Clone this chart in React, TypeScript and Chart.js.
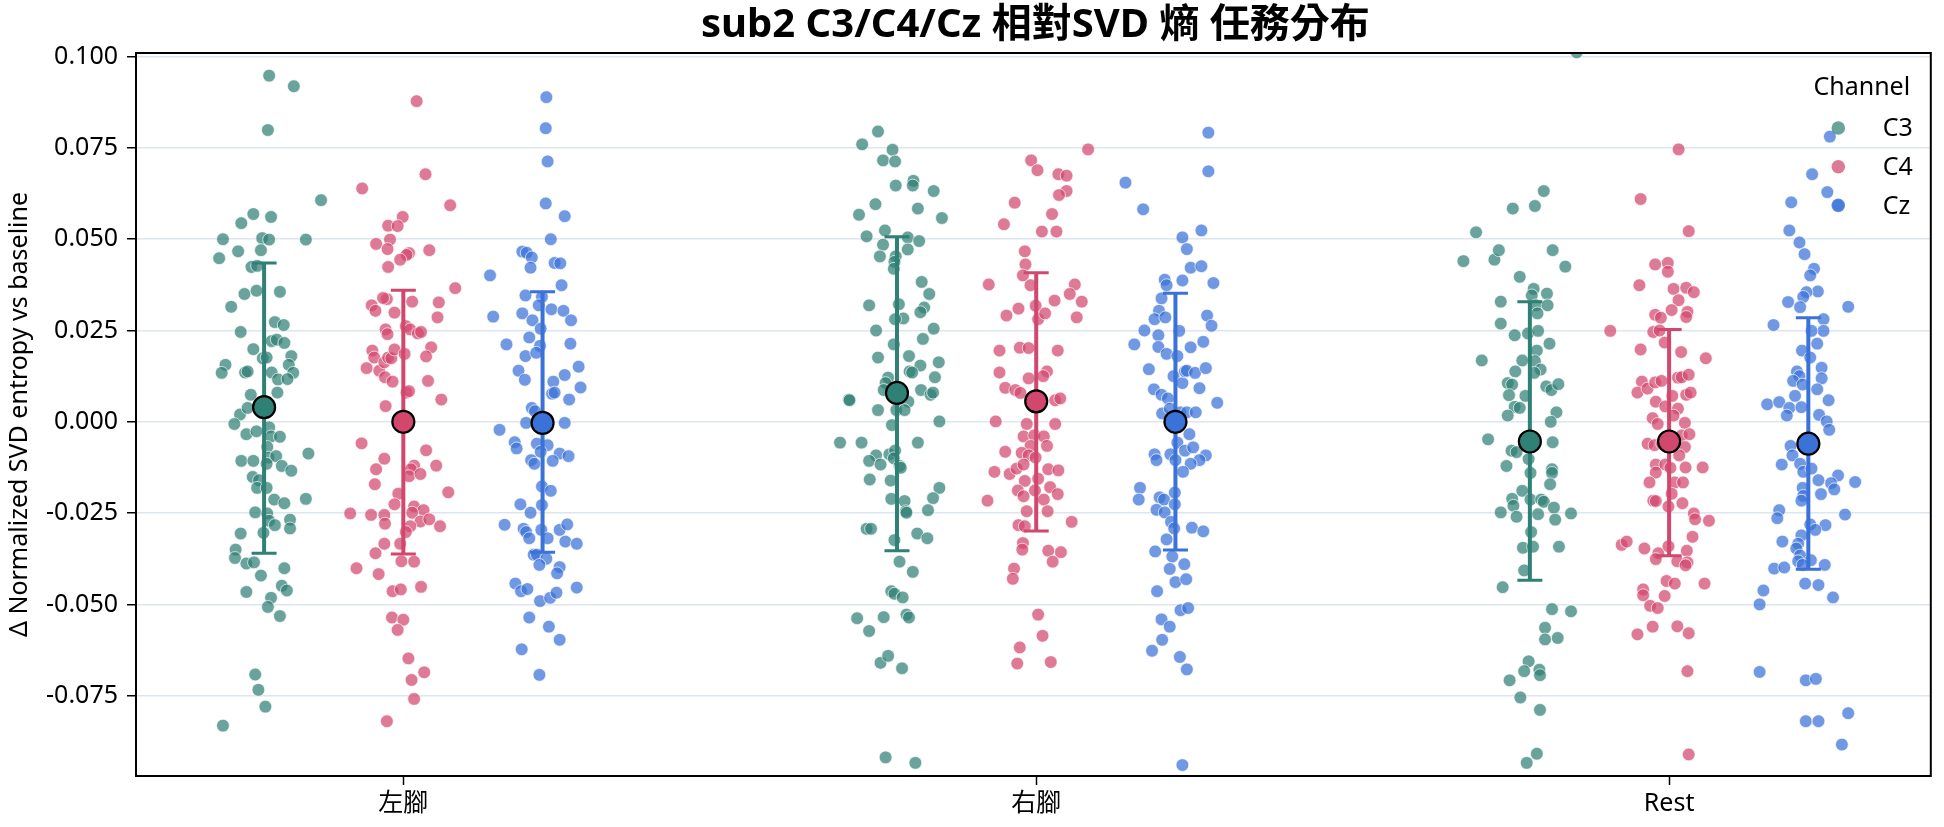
import React, { useEffect, useRef } from 'react';
import { Chart, registerables } from 'chart.js';

Chart.register(...registerables);

const WIDTH = 1944;
const HEIGHT = 827;
const FONT = '"Noto Sans", "Noto Sans CJK TC", sans-serif';

const titleText = 'sub2 C3/C4/Cz 相對SVD 熵 任務分布';
const yAxisTitle = 'Δ Normalized SVD entropy vs baseline';
const legendTitle = 'Channel';

const categories = ['左腳', '右腳', 'Rest'];
const channels = ['C3', 'C4', 'Cz'];
const yTicks = [-0.075, -0.05, -0.025, 0, 0.025, 0.05, 0.075, 0.1];

// per-channel dodge within a task, in category units
const dodge = [-0.22, 0, 0.22];

// channel means per task, with the lower / upper error-bar ends
const c3Mean = [0.004, 0.0079, -0.0054];
const c4Mean = [0.0, 0.0056, -0.0054];
const czMean = [-0.0003, 0.0, -0.006];
const c3Low = [-0.036, -0.0353, -0.0434];
const c3High = [0.0435, 0.0507, 0.0329];
const c4Low = [-0.0362, -0.0299, -0.0367];
const c4High = [0.036, 0.0408, 0.0253];
const czLow = [-0.0357, -0.0351, -0.0404];
const czHigh = [0.0356, 0.0352, 0.0285];

// trials: [jitter, Δ entropy]
const c3Left = [[0.008,0.0948],[0.047,0.0919],[0.006,0.0799],[0.090,0.0607],[-0.017,0.0569],[-0.036,0.0544],[0.011,0.0561],[-0.065,0.0500],[-0.003,0.0503],[0.008,0.0499],[0.066,0.0499],[-0.071,0.0448],[-0.041,0.0467],[-0.005,0.0470],[-0.020,0.0424],[-0.011,0.0427],[0.025,0.0356],[-0.031,0.0350],[-0.012,0.0359],[-0.052,0.0315],[-0.037,0.0246],[0.017,0.0273],[0.031,0.0265],[-0.017,0.0199],[0.012,0.0221],[0.020,0.0225],[0.032,0.0216],[-0.061,0.0156],[-0.067,0.0134],[-0.030,0.0135],[-0.026,0.0138],[-0.002,0.0174],[0.004,0.0176],[0.043,0.0180],[0.039,0.0156],[0.046,0.0134],[0.012,0.0135],[0.022,0.0116],[0.037,0.0117],[-0.021,0.0074],[0.021,0.0080],[-0.038,0.0020],[-0.026,0.0038],[-0.047,-0.0006],[-0.028,-0.0034],[0.008,-0.0015],[0.011,-0.0040],[0.025,-0.0041],[-0.012,-0.0026],[0.070,-0.0087],[-0.036,-0.0107],[-0.017,-0.0107],[0.005,-0.0069],[0.007,-0.0098],[0.019,-0.0094],[0.028,-0.0121],[0.043,-0.0134],[0.004,-0.0115],[-0.018,-0.0151],[-0.008,-0.0160],[-0.011,-0.0181],[0.004,-0.0181],[0.016,-0.0213],[0.032,-0.0223],[0.066,-0.0211],[-0.014,-0.0248],[0.005,-0.0251],[0.008,-0.0271],[0.017,-0.0283],[0.041,-0.0268],[0.041,-0.0292],[-0.037,-0.0306],[-0.001,-0.0304],[-0.045,-0.0350],[-0.046,-0.0373],[-0.028,-0.0388],[-0.016,-0.0385],[-0.005,-0.0421],[0.032,-0.0401],[0.028,-0.0449],[0.036,-0.0462],[-0.028,-0.0466],[0.011,-0.0482],[0.006,-0.0507],[0.025,-0.0532],[-0.014,-0.0692],[-0.009,-0.0734],[0.002,-0.0780],[-0.065,-0.0832]];
const c4Left = [[0.021,0.0878],[0.035,0.0678],[-0.065,0.0639],[0.074,0.0593],[-0.001,0.0561],[-0.024,0.0537],[-0.009,0.0536],[-0.021,0.0499],[-0.043,0.0487],[-0.025,0.0473],[0.009,0.0462],[0.005,0.0457],[-0.005,0.0444],[0.041,0.0470],[-0.024,0.0424],[0.082,0.0366],[-0.026,0.0336],[-0.050,0.0319],[-0.044,0.0304],[-0.032,0.0339],[-0.014,0.0299],[0.014,0.0329],[0.056,0.0327],[0.054,0.0286],[-0.028,0.0253],[-0.025,0.0240],[0.004,0.0262],[0.011,0.0253],[0.023,0.0242],[0.028,0.0246],[-0.049,0.0195],[-0.046,0.0176],[-0.058,0.0147],[-0.038,0.0140],[-0.030,0.0163],[-0.024,0.0176],[-0.019,0.0174],[-0.014,0.0198],[0.002,0.0186],[0.044,0.0204],[0.036,0.0179],[-0.029,0.0122],[-0.017,0.0110],[0.039,0.0112],[0.005,0.0080],[0.009,0.0084],[-0.028,0.0043],[0.060,0.0061],[-0.066,-0.0059],[-0.030,-0.0101],[-0.043,-0.0130],[-0.045,-0.0171],[0.017,-0.0120],[0.012,-0.0130],[0.009,-0.0149],[0.027,-0.0143],[0.036,-0.0078],[0.052,-0.0120],[0.071,-0.0193],[-0.008,-0.0197],[-0.014,-0.0226],[0.017,-0.0232],[0.032,-0.0242],[0.014,-0.0249],[-0.084,-0.0251],[-0.051,-0.0255],[-0.030,-0.0255],[-0.029,-0.0279],[0.027,-0.0273],[0.041,-0.0267],[0.058,-0.0286],[0.011,-0.0286],[0.004,-0.0302],[-0.030,-0.0334],[-0.005,-0.0334],[-0.044,-0.0360],[-0.074,-0.0401],[-0.039,-0.0417],[-0.003,-0.0382],[0.017,-0.0383],[-0.017,-0.0464],[-0.004,-0.0459],[0.028,-0.0452],[-0.018,-0.0536],[0.000,-0.0542],[-0.009,-0.0570],[0.008,-0.0648],[0.033,-0.0686],[0.013,-0.0707],[0.017,-0.0759],[-0.026,-0.0820]];
const czLeft = [[0.006,0.0889],[0.005,0.0804],[0.008,0.0713],[0.005,0.0598],[0.035,0.0563],[0.013,0.0500],[-0.032,0.0466],[-0.025,0.0463],[-0.017,0.0450],[-0.019,0.0422],[0.019,0.0435],[0.028,0.0434],[-0.083,0.0401],[0.030,0.0374],[-0.027,0.0346],[-0.001,0.0342],[-0.006,0.0319],[0.014,0.0308],[0.033,0.0304],[0.045,0.0278],[-0.078,0.0288],[-0.032,0.0297],[-0.016,0.0278],[-0.003,0.0255],[-0.057,0.0212],[-0.021,0.0231],[-0.004,0.0208],[0.044,0.0214],[-0.027,0.0180],[-0.010,0.0189],[-0.038,0.0140],[-0.028,0.0115],[0.057,0.0151],[0.035,0.0128],[0.017,0.0110],[0.015,0.0077],[0.019,0.0080],[0.060,0.0094],[0.042,0.0061],[-0.017,0.0038],[-0.012,0.0029],[-0.026,-0.0003],[0.035,-0.0003],[-0.068,-0.0022],[-0.044,-0.0056],[-0.041,-0.0073],[-0.009,-0.0060],[0.008,-0.0064],[-0.003,-0.0082],[0.027,-0.0087],[0.041,-0.0094],[-0.018,-0.0105],[-0.013,-0.0115],[0.016,-0.0107],[-0.001,-0.0177],[0.013,-0.0189],[-0.035,-0.0226],[-0.001,-0.0228],[-0.019,-0.0249],[-0.060,-0.0282],[-0.030,-0.0293],[-0.026,-0.0302],[-0.021,-0.0319],[-0.002,-0.0296],[0.008,-0.0319],[0.027,-0.0296],[0.039,-0.0281],[0.036,-0.0328],[0.054,-0.0334],[-0.014,-0.0364],[-0.009,-0.0364],[0.006,-0.0375],[-0.005,-0.0392],[0.027,-0.0398],[0.023,-0.0415],[-0.043,-0.0443],[-0.034,-0.0464],[-0.024,-0.0458],[-0.004,-0.0491],[0.012,-0.0482],[0.022,-0.0468],[0.054,-0.0454],[-0.021,-0.0536],[0.010,-0.0561],[0.027,-0.0597],[-0.033,-0.0623],[-0.005,-0.0693]];
const c3Right = [[-0.030,0.0795],[-0.055,0.0760],[-0.007,0.0745],[-0.022,0.0716],[-0.003,0.0713],[-0.002,0.0647],[0.026,0.0660],[0.025,0.0647],[0.058,0.0632],[-0.034,0.0596],[0.033,0.0584],[-0.060,0.0567],[0.071,0.0558],[-0.019,0.0524],[-0.048,0.0508],[0.017,0.0505],[0.035,0.0495],[-0.022,0.0485],[0.017,0.0472],[-0.027,0.0453],[-0.002,0.0453],[-0.004,0.0438],[-0.005,0.0419],[0.039,0.0383],[0.051,0.0350],[-0.044,0.0319],[0.003,0.0322],[0.043,0.0313],[0.037,0.0300],[0.010,0.0283],[-0.003,0.0281],[0.058,0.0255],[-0.033,0.0250],[0.041,0.0227],[-0.005,0.0212],[-0.030,0.0176],[0.019,0.0180],[0.037,0.0154],[0.066,0.0163],[0.020,0.0138],[0.024,0.0135],[0.060,0.0122],[-0.014,0.0121],[-0.018,0.0106],[-0.021,0.0087],[0.038,0.0087],[0.053,0.0074],[0.057,0.0080],[0.018,0.0055],[-0.076,0.0061],[-0.075,0.0059],[-0.030,0.0032],[-0.001,0.0032],[0.012,0.0032],[0.067,0.0001],[-0.008,-0.0009],[-0.090,-0.0057],[-0.056,-0.0057],[0.033,-0.0057],[-0.033,-0.0092],[-0.044,-0.0107],[-0.026,-0.0117],[-0.012,-0.0089],[-0.003,-0.0079],[-0.005,-0.0100],[0.004,-0.0121],[0.006,-0.0126],[-0.043,-0.0158],[-0.010,-0.0161],[0.067,-0.0181],[0.057,-0.0209],[-0.009,-0.0211],[0.012,-0.0217],[0.014,-0.0245],[0.049,-0.0242],[0.015,-0.0249],[-0.048,-0.0293],[-0.041,-0.0293],[0.032,-0.0306],[0.048,-0.0319],[-0.004,-0.0324],[0.004,-0.0383],[0.025,-0.0411],[-0.009,-0.0464],[-0.004,-0.0471],[0.009,-0.0481],[-0.063,-0.0538],[-0.021,-0.0535],[0.015,-0.0528],[0.019,-0.0536],[-0.044,-0.0573],[-0.026,-0.0660],[-0.014,-0.0641],[0.008,-0.0675],[-0.018,-0.0919],[0.029,-0.0934]];
const c4Right = [[0.082,0.0746],[-0.008,0.0716],[0.002,0.0689],[0.035,0.0678],[0.048,0.0674],[0.048,0.0632],[0.036,0.0621],[-0.034,0.0600],[0.025,0.0569],[-0.051,0.0541],[0.009,0.0521],[0.032,0.0521],[-0.018,0.0467],[-0.017,0.0431],[-0.021,0.0401],[-0.009,0.0374],[-0.075,0.0376],[0.061,0.0376],[0.053,0.0350],[0.072,0.0329],[0.029,0.0332],[-0.028,0.0310],[-0.047,0.0291],[-0.001,0.0318],[0.003,0.0281],[0.014,0.0297],[0.064,0.0286],[-0.058,0.0195],[-0.026,0.0203],[-0.012,0.0202],[0.034,0.0195],[-0.058,0.0135],[-0.012,0.0119],[0.017,0.0138],[0.011,0.0125],[-0.049,0.0093],[-0.033,0.0087],[-0.025,0.0079],[0.030,0.0059],[0.038,0.0064],[-0.064,0.0001],[-0.015,-0.0006],[0.030,-0.0006],[-0.020,-0.0040],[-0.003,-0.0037],[0.012,-0.0040],[-0.009,-0.0066],[0.017,-0.0066],[-0.049,-0.0082],[-0.023,-0.0085],[-0.012,-0.0092],[-0.001,-0.0098],[-0.066,-0.0137],[-0.042,-0.0143],[-0.031,-0.0128],[-0.020,-0.0117],[0.019,-0.0130],[0.035,-0.0133],[-0.018,-0.0162],[0.003,-0.0156],[-0.029,-0.0188],[-0.020,-0.0204],[-0.002,-0.0188],[0.022,-0.0179],[0.034,-0.0198],[-0.077,-0.0216],[0.012,-0.0213],[0.018,-0.0245],[-0.015,-0.0245],[-0.028,-0.0283],[-0.018,-0.0286],[0.056,-0.0274],[-0.021,-0.0332],[-0.022,-0.0350],[0.019,-0.0353],[0.039,-0.0357],[0.026,-0.0383],[-0.035,-0.0402],[-0.037,-0.0430],[0.003,-0.0528],[0.010,-0.0586],[-0.026,-0.0618],[-0.030,-0.0662],[0.023,-0.0658]];
const czRight = [[0.052,0.0792],[-0.079,0.0655],[0.052,0.0686],[-0.051,0.0582],[0.041,0.0524],[0.011,0.0505],[0.018,0.0473],[0.024,0.0422],[0.041,0.0426],[-0.017,0.0389],[-0.014,0.0374],[0.011,0.0387],[0.060,0.0380],[-0.022,0.0338],[-0.026,0.0304],[-0.033,0.0281],[-0.016,0.0286],[0.050,0.0291],[0.057,0.0263],[-0.049,0.0250],[0.006,0.0249],[-0.065,0.0212],[-0.027,0.0237],[-0.027,0.0205],[-0.014,0.0186],[0.003,0.0180],[0.024,0.0204],[0.044,0.0219],[-0.042,0.0144],[-0.003,0.0125],[0.011,0.0106],[0.015,0.0138],[0.018,0.0140],[0.031,0.0134],[0.048,0.0147],[-0.034,0.0089],[-0.022,0.0074],[-0.012,0.0064],[0.038,0.0092],[0.066,0.0052],[-0.021,0.0023],[-0.009,0.0036],[0.008,0.0026],[0.018,0.0026],[0.032,0.0026],[0.022,-0.0034],[0.003,-0.0057],[0.015,-0.0079],[0.028,-0.0070],[0.048,-0.0092],[0.038,-0.0105],[0.024,-0.0115],[-0.033,-0.0089],[-0.030,-0.0105],[-0.008,-0.0089],[0.000,-0.0105],[0.012,-0.0137],[-0.056,-0.0181],[-0.058,-0.0213],[-0.025,-0.0207],[-0.018,-0.0213],[-0.001,-0.0194],[-0.001,-0.0226],[-0.030,-0.0241],[-0.017,-0.0248],[-0.007,-0.0274],[-0.002,-0.0292],[0.026,-0.0290],[0.044,-0.0300],[-0.014,-0.0322],[-0.032,-0.0355],[-0.005,-0.0369],[0.014,-0.0390],[-0.009,-0.0403],[0.000,-0.0439],[0.017,-0.0431],[-0.029,-0.0464],[0.008,-0.0516],[0.020,-0.0510],[-0.022,-0.0541],[-0.009,-0.0561],[-0.021,-0.0597],[-0.037,-0.0627],[0.007,-0.0644],[0.018,-0.0678],[0.011,-0.0940]];
const c3Rest = [[0.074,0.1012],[0.022,0.0632],[-0.027,0.0584],[0.008,0.0591],[-0.085,0.0519],[-0.105,0.0440],[-0.056,0.0444],[-0.049,0.0470],[0.036,0.0470],[0.056,0.0425],[-0.016,0.0397],[0.006,0.0364],[0.003,0.0346],[0.027,0.0351],[-0.046,0.0329],[0.010,0.0319],[0.028,0.0319],[0.012,0.0297],[-0.046,0.0269],[-0.024,0.0237],[-0.003,0.0242],[0.013,0.0249],[0.031,0.0214],[0.011,0.0195],[-0.012,0.0168],[-0.076,0.0168],[0.008,0.0166],[0.017,0.0143],[-0.023,0.0138],[0.007,0.0134],[-0.035,0.0106],[-0.028,0.0102],[0.026,0.0097],[0.034,0.0087],[0.045,0.0103],[-0.033,0.0073],[-0.007,0.0071],[-0.024,0.0041],[-0.016,0.0038],[-0.035,0.0017],[0.042,0.0026],[0.033,0.0000],[-0.066,-0.0048],[-0.029,-0.0079],[-0.021,-0.0083],[-0.002,-0.0102],[-0.037,-0.0121],[0.036,-0.0056],[0.035,-0.0130],[0.035,-0.0140],[0.001,-0.0140],[0.032,-0.0171],[-0.012,-0.0189],[0.001,-0.0213],[0.018,-0.0213],[-0.028,-0.0211],[-0.026,-0.0230],[0.022,-0.0219],[-0.046,-0.0248],[-0.021,-0.0260],[0.013,-0.0253],[0.038,-0.0235],[0.040,-0.0268],[0.065,-0.0251],[0.002,-0.0302],[-0.011,-0.0345],[0.005,-0.0342],[0.046,-0.0342],[-0.009,-0.0407],[-0.043,-0.0453],[0.035,-0.0513],[0.065,-0.0519],[0.024,-0.0564],[0.024,-0.0596],[0.044,-0.0592],[-0.002,-0.0656],[-0.009,-0.0683],[0.015,-0.0679],[0.016,-0.0694],[-0.032,-0.0708],[-0.015,-0.0755],[0.016,-0.0789],[0.011,-0.0909],[-0.005,-0.0934]];
const c4Rest = [[0.015,0.0746],[-0.045,0.0610],[0.031,0.0522],[-0.022,0.0431],[-0.002,0.0435],[-0.002,0.0411],[-0.047,0.0374],[0.007,0.0364],[0.027,0.0367],[0.039,0.0355],[0.015,0.0333],[0.004,0.0306],[-0.022,0.0293],[-0.013,0.0285],[0.029,0.0301],[0.027,0.0287],[-0.093,0.0249],[-0.025,0.0246],[-0.015,0.0250],[-0.007,0.0217],[-0.045,0.0198],[0.019,0.0191],[0.058,0.0174],[-0.043,0.0110],[-0.050,0.0080],[-0.034,0.0091],[-0.022,0.0108],[-0.012,0.0112],[0.014,0.0121],[0.020,0.0122],[0.031,0.0129],[0.027,0.0074],[0.034,0.0080],[-0.021,0.0055],[0.005,0.0071],[-0.006,0.0042],[0.014,0.0036],[-0.026,0.0010],[-0.018,-0.0006],[0.007,0.0017],[0.025,-0.0003],[0.020,-0.0037],[0.032,-0.0034],[-0.034,-0.0060],[-0.023,-0.0064],[-0.011,-0.0060],[0.025,-0.0069],[0.016,-0.0092],[-0.021,-0.0117],[-0.006,-0.0117],[0.002,-0.0126],[0.026,-0.0125],[0.053,-0.0125],[-0.021,-0.0139],[-0.031,-0.0166],[0.009,-0.0166],[0.022,-0.0166],[0.004,-0.0197],[-0.025,-0.0216],[-0.021,-0.0217],[-0.001,-0.0232],[0.021,-0.0223],[0.039,-0.0251],[0.041,-0.0267],[0.063,-0.0271],[0.037,-0.0315],[-0.075,-0.0337],[-0.067,-0.0328],[-0.039,-0.0347],[-0.017,-0.0360],[-0.021,-0.0376],[-0.001,-0.0341],[0.013,-0.0382],[0.028,-0.0353],[0.029,-0.0385],[0.026,-0.0393],[-0.004,-0.0436],[0.009,-0.0443],[0.056,-0.0443],[-0.041,-0.0459],[-0.041,-0.0475],[-0.030,-0.0504],[-0.018,-0.0510],[-0.007,-0.0477],[-0.050,-0.0582],[-0.026,-0.0561],[0.013,-0.0560],[0.031,-0.0579],[0.029,-0.0683],[0.031,-0.0911]];
const czRest = [[0.034,0.0781],[0.006,0.0678],[0.030,0.0629],[-0.027,0.0601],[0.047,0.0593],[-0.030,0.0524],[-0.014,0.0491],[-0.006,0.0459],[0.009,0.0419],[0.003,0.0401],[0.015,0.0357],[-0.003,0.0355],[-0.008,0.0342],[-0.032,0.0328],[-0.013,0.0314],[0.063,0.0315],[-0.055,0.0265],[0.024,0.0281],[0.024,0.0249],[0.005,0.0249],[0.014,0.0214],[-0.010,0.0195],[0.003,0.0176],[0.021,0.0148],[-0.018,0.0138],[-0.014,0.0125],[-0.024,0.0112],[-0.009,0.0102],[0.021,0.0119],[0.014,0.0089],[-0.021,0.0071],[-0.065,0.0048],[-0.046,0.0054],[-0.030,0.0038],[-0.034,0.0017],[-0.011,0.0040],[0.032,0.0059],[0.017,0.0019],[0.029,0.0001],[0.033,-0.0022],[-0.028,-0.0066],[0.009,-0.0061],[-0.042,-0.0117],[-0.025,-0.0092],[-0.013,-0.0115],[-0.008,-0.0137],[0.005,-0.0128],[0.016,-0.0160],[0.047,-0.0147],[0.036,-0.0168],[0.041,-0.0185],[0.074,-0.0165],[-0.009,-0.0181],[-0.008,-0.0203],[0.020,-0.0198],[-0.011,-0.0216],[-0.046,-0.0242],[-0.049,-0.0264],[0.058,-0.0254],[0.003,-0.0281],[0.027,-0.0283],[0.011,-0.0296],[-0.011,-0.0311],[-0.041,-0.0328],[-0.016,-0.0334],[-0.019,-0.0347],[-0.013,-0.0366],[-0.016,-0.0382],[0.004,-0.0379],[-0.009,-0.0392],[-0.054,-0.0402],[-0.038,-0.0399],[0.026,-0.0392],[-0.005,-0.0443],[0.016,-0.0447],[0.039,-0.0481],[-0.071,-0.0462],[-0.077,-0.0500],[-0.077,-0.0685],[-0.004,-0.0708],[0.012,-0.0704],[0.063,-0.0798],[-0.004,-0.0820],[0.016,-0.0820],[0.053,-0.0884]];

const trials = [
  [c3Left, c3Right, c3Rest],
  [c4Left, c4Right, c4Rest],
  [czLeft, czRight, czRest],
];
const means = [c3Mean, c4Mean, czMean];
const lows = [c3Low, c4Low, czLow];
const highs = [c3High, c4High, czHigh];

const baseColors = [
  [47, 128, 117],
  [210, 71, 110],
  [58, 114, 216],
];
const solid = (c: number[]) => `rgb(${c[0]},${c[1]},${c[2]})`;
const faded = (c: number[]) => `rgba(${c[0]},${c[1]},${c[2]},0.72)`;

// error bars go in between the trial dots and the mean markers
const errorBarPlugin = {
  id: 'errorBars',
  beforeDatasetDraw(chart: any, args: any) {
    if (args.index !== channels.length - 1) return;
    const { ctx } = chart;
    const xs = chart.scales.x;
    const ys = chart.scales.y;
    ctx.save();
    channels.forEach((_, c) => {
      categories.forEach((_, i) => {
        const px = xs.getPixelForValue(i + dodge[c]);
        const yLo = ys.getPixelForValue(lows[c][i]);
        const yHi = ys.getPixelForValue(highs[c][i]);
        ctx.strokeStyle = solid(baseColors[c]);
        ctx.lineCap = 'butt';
        ctx.lineWidth = 4;
        ctx.beginPath();
        ctx.moveTo(px, yLo);
        ctx.lineTo(px, yHi);
        ctx.stroke();
        ctx.lineWidth = 3;
        ctx.beginPath();
        ctx.moveTo(px - 12.5, yLo);
        ctx.lineTo(px + 12.5, yLo);
        ctx.moveTo(px - 12.5, yHi);
        ctx.lineTo(px + 12.5, yHi);
        ctx.stroke();
      });
    });
    ctx.restore();
  },
};

// frame, title, y-axis title and the channel legend
const decorPlugin = {
  id: 'decor',
  afterDraw(chart: any) {
    const { ctx, chartArea } = chart;
    const { left, right, top, bottom } = chartArea;
    ctx.save();
    ctx.strokeStyle = '#000';
    ctx.lineWidth = 2;
    ctx.strokeRect(left, top, right - left, bottom - top);

    ctx.fillStyle = '#000';
    ctx.textAlign = 'center';
    ctx.textBaseline = 'middle';
    ctx.font = `bold 40px ${FONT}`;
    ctx.fillText(titleText, (left + right) / 2 + 2, 26);

    ctx.save();
    ctx.translate(20, (top + bottom) / 2);
    ctx.rotate(-Math.PI / 2);
    ctx.font = `25px ${FONT}`;
    ctx.fillText(yAxisTitle, 0, 0);
    ctx.restore();

    ctx.font = `25px ${FONT}`;
    ctx.textAlign = 'center';
    ctx.fillText(legendTitle, right - 69, top + 35);
    channels.forEach((name, c) => {
      const y = top + 75 + c * 38.7;
      ctx.beginPath();
      ctx.arc(right - 92.5, y, 6.8, 0, Math.PI * 2);
      ctx.fillStyle = faded(baseColors[c]);
      ctx.fill();
      ctx.fillStyle = '#000';
      ctx.textAlign = 'left';
      ctx.fillText(name, right - 48, y + 1);
    });
    ctx.restore();
  },
};

export default function App() {
  const canvasRef = useRef<HTMLCanvasElement | null>(null);

  useEffect(() => {
    document.body.style.margin = '0';
    const canvas = canvasRef.current;
    if (!canvas) return;

    const meanSets = channels.map((name, c) => ({
      label: `${name} mean`,
      data: categories.map((_, i) => ({ x: i + dodge[c], y: means[c][i] })),
      pointRadius: 11,
      pointBackgroundColor: solid(baseColors[c]),
      pointBorderColor: '#000',
      pointBorderWidth: 2.2,
      clip: false as any,
    }));

    const dotSets: any[] = [];
    channels.forEach((name, c) => {
      categories.forEach((_, i) => {
        dotSets.push({
          label: name,
          data: trials[c][i].map(([j, v]) => ({ x: i + dodge[c] + j, y: v })),
          pointRadius: 6.4,
          pointBackgroundColor: faded(baseColors[c]),
          pointBorderColor: 'rgba(255,255,255,0.85)',
          pointBorderWidth: 0.8,
          clip: 0,
        });
      });
    });

    const chart = new Chart(canvas, {
      type: 'scatter',
      data: { datasets: [...meanSets, ...dotSets] },
      options: {
        responsive: false,
        animation: false,
        devicePixelRatio: 1,
        layout: { padding: { top: 53, right: 13, bottom: 0, left: 0 } },
        plugins: {
          legend: { display: false },
          title: { display: false },
          tooltip: { enabled: false },
        },
        scales: {
          x: {
            type: 'linear',
            min: -0.4224,
            max: 2.4135,
            afterFit: (s: any) => {
              s.height = 51;
            },
            afterBuildTicks: (s: any) => {
              s.ticks = categories.map((_, i) => ({ value: i }));
            },
            grid: {
              display: true,
              drawOnChartArea: false,
              drawTicks: true,
              tickLength: 9,
              tickColor: '#000',
              tickWidth: 1.5,
            },
            border: { display: false },
            ticks: {
              autoSkip: false,
              maxRotation: 0,
              padding: 4,
              color: '#000',
              font: { family: FONT, size: 25 },
              callback: (v: any) => categories[Math.round(Number(v))],
            },
          },
          y: {
            type: 'linear',
            min: -0.097,
            max: 0.101,
            afterFit: (s: any) => {
              s.width = 136;
            },
            afterBuildTicks: (s: any) => {
              s.ticks = yTicks.map((v) => ({ value: v }));
            },
            grid: {
              display: true,
              drawOnChartArea: true,
              color: '#dde5ee',
              lineWidth: 1.5,
              drawTicks: true,
              tickLength: 9,
              tickColor: '#000',
              tickWidth: 1.5,
            },
            border: { display: false },
            ticks: {
              padding: 9,
              color: '#000',
              font: { family: FONT, size: 25 },
              callback: (v: any) => Number(v).toFixed(3),
            },
          },
        },
      },
      plugins: [errorBarPlugin, decorPlugin],
    });

    return () => {
      chart.destroy();
    };
  }, []);

  return (
    <div style={{ position: 'fixed', left: 0, top: 0, width: WIDTH, height: HEIGHT, background: '#fff' }}>
      <canvas ref={canvasRef} width={WIDTH} height={HEIGHT} style={{ width: WIDTH, height: HEIGHT, display: 'block' }} />
    </div>
  );
}
